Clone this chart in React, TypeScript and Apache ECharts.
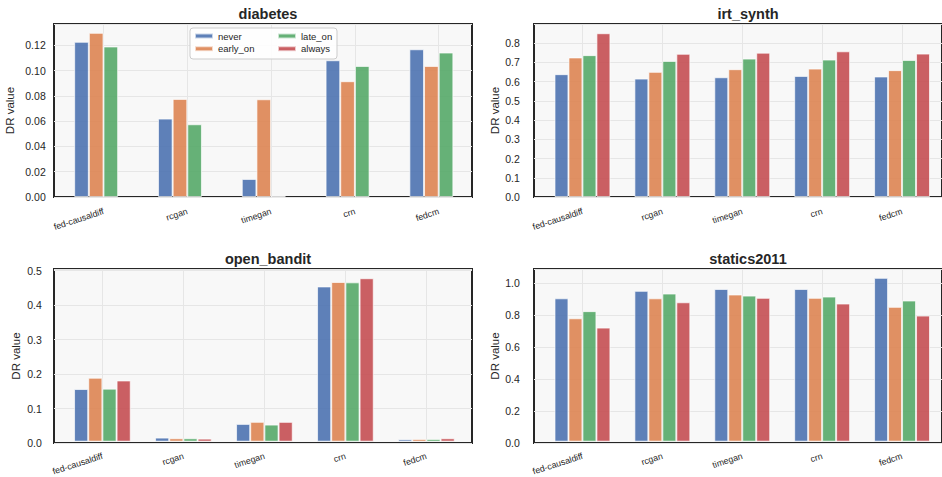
import React, { useEffect, useRef } from 'react';
import * as echarts from 'echarts';

const categories = ['fed-causaldiff', 'rcgan', 'timegan', 'crn', 'fedcm'];
const seriesNames = ['never', 'early_on', 'late_on', 'always'];
const palette = ['#4C72B0', '#DD8452', '#55A868', '#C44E52'];

const diabetesNever = [0.1229, 0.0621, 0.0143, 0.1083, 0.117];
const diabetesEarly = [0.13, 0.0777, 0.0774, 0.0917, 0.1038];
const diabetesLate = [0.1192, 0.0576, 0.0005, 0.1038, 0.1144];
const diabetesAlways = [null, null, null, null, null];

const irtNever = [0.639, 0.616, 0.623, 0.63, 0.627];
const irtEarly = [0.726, 0.651, 0.665, 0.668, 0.66];
const irtLate = [0.738, 0.708, 0.72, 0.715, 0.713];
const irtAlways = [0.852, 0.745, 0.751, 0.758, 0.746];

const openNever = [0.154, 0.012, 0.052, 0.454, 0.007];
const openEarly = [0.187, 0.01, 0.058, 0.467, 0.008];
const openLate = [0.155, 0.01, 0.05, 0.466, 0.008];
const openAlways = [0.179, 0.009, 0.058, 0.478, 0.01];

const staticsNever = [0.905, 0.952, 0.964, 0.964, 1.034];
const staticsEarly = [0.779, 0.905, 0.929, 0.908, 0.851];
const staticsLate = [0.824, 0.935, 0.922, 0.916, 0.891];
const staticsAlways = [0.72, 0.88, 0.908, 0.872, 0.796];

const panelTitles = ['diabetes', 'irt_synth', 'open_bandit', 'statics2011'];
const panelData = [
  [diabetesNever, diabetesEarly, diabetesLate, diabetesAlways],
  [irtNever, irtEarly, irtLate, irtAlways],
  [openNever, openEarly, openLate, openAlways],
  [staticsNever, staticsEarly, staticsLate, staticsAlways],
];
const yMax = [0.137, 0.9, 0.505, 1.09];
const yInterval = [0.02, 0.1, 0.1, 0.2];
const yDecimals = [2, 1, 1, 1];

// layout (pixels)
const frameLayout = [
  { left: 54, top: 24, width: 418, height: 173 },
  { left: 534, top: 24, width: 416, height: 173 },
  { left: 54, top: 269, width: 418, height: 174 },
  { left: 534, top: 269, width: 416, height: 174 },
];
const dataLayout = [
  { left: 61.6, width: 419 },
  { left: 542.5, width: 402 },
  { left: 61.9, width: 405 },
  { left: 542.5, width: 402 },
];
const labelMargin = [18.5, 21.5, 19.5, 21.5];
const nameGap = [38, 32, 32, 32];
const titleTop = [1, 1, 246, 246];

const FONT = 'Liberation Sans, Arial, Helvetica, sans-serif';
const TEXT = '#262626';

export default function App() {
  const ref = useRef<HTMLDivElement>(null);
  useEffect(() => {
    if (!ref.current) return;
    const chart = echarts.init(ref.current, undefined, { renderer: 'svg' });
    const grid: any[] = [];
    const xAxis: any[] = [];
    const yAxis: any[] = [];
    const series: any[] = [];
    const title: any[] = [];
    panelTitles.forEach((t, i) => {
      const f = frameLayout[i];
      const d = dataLayout[i];
      grid.push({
        left: f.left, top: f.top, width: f.width, height: f.height,
        show: true, backgroundColor: '#f8f8f8', borderColor: '#262626', borderWidth: 2,
      });
      grid.push({ left: d.left, top: f.top, width: d.width, height: f.height, show: false });
      const ga = 2 * i;
      const gb = 2 * i + 1;
      xAxis.push({ gridIndex: ga, type: 'category', data: categories, show: false });
      yAxis.push({
        gridIndex: ga, type: 'value', min: 0, max: yMax[i], interval: yInterval[i],
        name: 'DR value', nameLocation: 'middle', nameGap: nameGap[i],
        nameTextStyle: { fontSize: 11.5, color: TEXT, fontFamily: FONT },
        axisLine: { show: false }, axisTick: { show: false },
        axisLabel: {
          formatter: (v: number) => v.toFixed(yDecimals[i]), showMaxLabel: false,
          align: 'center', margin: labelMargin[i], fontSize: 10.5, color: TEXT, fontFamily: FONT,
        },
        splitLine: { show: true, lineStyle: { color: '#e6e6e6', width: 1 } },
      });
      xAxis.push({
        gridIndex: gb, type: 'category', data: categories,
        axisLine: { show: false }, axisTick: { show: false },
        axisLabel: { rotate: 18, fontSize: 8.8, margin: 14, color: TEXT, fontFamily: FONT, interval: 0 },
        splitLine: { show: true, alignWithLabel: true, lineStyle: { color: '#e6e6e6', width: 1 } },
      });
      yAxis.push({ gridIndex: gb, type: 'value', min: 0, max: yMax[i], show: false, splitLine: { show: false } });
      seriesNames.forEach((name, s) => {
        series.push({
          type: 'bar', name, xAxisIndex: gb, yAxisIndex: gb,
          data: panelData[i][s],
          barWidth: '17.5%', barGap: '0%',
          itemStyle: { color: palette[s], opacity: 0.9, borderColor: 'rgba(255,255,255,0.75)', borderWidth: 1 },
        });
      });
      title.push({
        text: t, left: f.left + 209, top: titleTop[i], textAlign: 'center',
        textStyle: { fontSize: 14.5, fontWeight: 'bold', color: TEXT, fontFamily: FONT },
      });
    });
    const legendCommon = {
      orient: 'vertical', itemWidth: 18, itemHeight: 5, itemGap: 2.7, icon: 'rect', z: 10, padding: 0,
      textStyle: { fontSize: 9.5, lineHeight: 10, color: TEXT, fontFamily: FONT },
    };
    chart.setOption({
      animation: false,
      textStyle: { fontFamily: FONT },
      title,
      grid,
      xAxis,
      yAxis,
      series,
      legend: [
        { ...legendCommon, data: ['never', 'early_on'], left: 194, top: 31 },
        { ...legendCommon, data: ['late_on', 'always'], left: 277, top: 31 },
      ],
      graphic: [
        {
          type: 'rect', z: 9,
          shape: { x: 190, y: 28, width: 147, height: 31, r: 3 },
          style: { fill: 'rgba(255,255,255,0.85)', stroke: '#cccccc', lineWidth: 1 },
        },
      ],
    });
    return () => chart.dispose();
  }, []);
  return <div ref={ref} style={{ position: 'absolute', left: 0, top: 0, width: 942, height: 477 }} />;
}
